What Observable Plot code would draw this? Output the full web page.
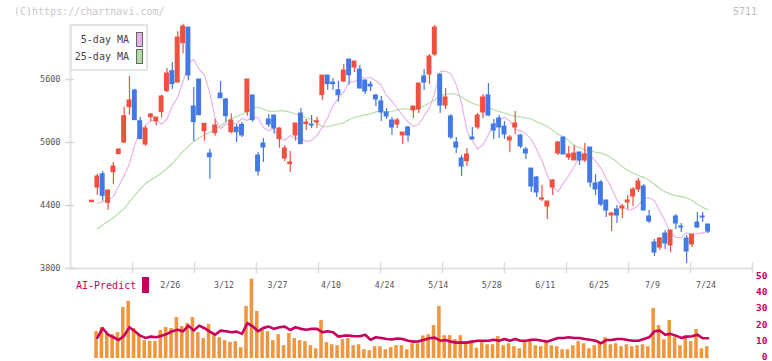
<!DOCTYPE html>
<html>
<head>
<meta charset="utf-8">
<script src="https://cdn.jsdelivr.net/npm/d3@7"></script>
<script src="https://cdn.jsdelivr.net/npm/@observablehq/plot@0.6"></script>
<style>
  body { margin: 0; background: #fff; }
  #wrap { position: relative; width: 772px; height: 361px; overflow: hidden; font-family: "DejaVu Sans Mono", monospace; background: #fff; }
  #wrap svg { position: absolute; left: 0; }
  .abs { position: absolute; white-space: nowrap; line-height: 10px; }
</style>
</head>
<body>
<div id="wrap">
  <div class="abs" style="left:14px;top:7px;font-size:10px;color:#c8c8c8">(C)https://chartnavi.com/</div>
  <div class="abs" style="left:733px;top:7px;font-size:10px;color:#bdbdbd">5711</div>
</div>
<script>
// Daily OHLC prices, one entry per trading day
const open = [
  4432,4571,4698,4425,4717,4889,5000,5337,5495,5203,
  4981,5241,5203,5289,5489,5680,5571,5946,6095,5343,
  5600,5108,4895,5089,5467,5410,5098,5143,5168,5289,
  5448,4876,4990,5219,5257,5032,4848,4794,5067,5276,
  5175,5171,5192,5451,5638,5571,5498,5581,5790,5714,
  5695,5591,5552,5448,5391,5286,5210,5171,5067,5143,
  5305,5314,5629,5648,5838,5648,5352,5248,5000,4848,
  4822,5048,5143,5286,5448,5171,5229,5152,5019,5143,
  5067,4933,4752,4667,4457,4390,4571,4895,5048,4857,
  4829,4905,4829,4952,4610,4619,4448,4305,4362,4371,
  4429,4486,4552,4581,4295,4048,4000,4133,4019,4295,
  4200,4086,4029,4238,4295,4219
];
const high = [
  4446,4698,4724,4543,4810,4940,5337,5629,5508,5241,
  5156,5276,5238,5451,5705,5762,6054,6127,6095,5524,
  5600,5178,4936,5219,5581,5419,5273,5171,5190,5600,
  5448,4905,5038,5267,5257,5143,4971,4914,5181,5324,
  5219,5257,5238,5638,5638,5610,5584,5743,5790,5771,
  5733,5591,5581,5457,5438,5324,5238,5229,5095,5152,
  5343,5562,5695,5838,6114,5648,5514,5267,5048,4876,
  4943,5143,5276,5457,5562,5219,5257,5200,5067,5295,
  5076,4952,4752,4676,4590,4438,4648,5010,5048,4962,
  4971,4905,4990,4952,4695,4638,4448,4333,4400,4410,
  4495,4571,4657,4600,4352,4076,4095,4162,4162,4314,
  4229,4114,4124,4333,4333,4219
];
const low = [
  4432,4498,4441,4355,4597,4885,4990,5260,5213,5032,
  4965,5197,5159,5235,5476,5505,5571,5845,5587,5012,
  5260,5013,4650,5060,5422,5194,5083,5000,5048,5251,
  5194,4679,4810,5143,5079,4946,4819,4714,5013,4984,
  5114,5133,5137,5403,5498,5498,5384,5571,5546,5667,
  5514,5457,5486,5343,5200,5219,5067,5133,4981,5003,
  5229,5276,5495,5552,5819,5276,5314,5029,4895,4676,
  4771,5029,5124,5229,5248,5029,5038,5029,4905,5076,
  4943,4838,4524,4476,4438,4267,4495,4876,4886,4829,
  4829,4781,4810,4571,4495,4390,4286,4152,4229,4276,
  4362,4390,4524,4352,4229,3914,3971,3981,3952,4171,
  4143,3848,4000,4181,4238,4133
];
const close = [
  4446,4676,4492,4543,4771,4933,5251,5400,5213,5032,
  5133,5267,5238,5438,5657,5556,6000,6105,5638,5194,
  5260,5178,4860,5162,5422,5251,5210,5098,5067,5600,
  5213,4724,4952,5171,5133,5133,4943,4810,5181,4984,
  5190,5162,5202,5638,5556,5556,5451,5686,5641,5771,
  5514,5486,5533,5410,5286,5248,5143,5210,5095,5067,
  5343,5562,5571,5819,6095,5352,5429,5048,4952,4771,
  4886,5029,5257,5429,5257,5114,5143,5076,5048,5181,
  4962,4895,4581,4524,4467,4438,4638,5000,4886,4886,
  4895,4829,4886,4619,4552,4409,4352,4324,4305,4390,
  4448,4552,4629,4352,4248,3952,4086,4038,4162,4229,
  4190,3962,4124,4190,4286,4152
];

// Start of the moving-average lines, before a full window of days is on screen: [day index, price]
const ma5Lead = [[1,4420],[2,4435],[3,4450],[4,4485]];
const ma25Lead = [[1,4178],[4,4285],[6,4370],[8,4500],[10,4610],[13,4710],[15,4800],[17,4915],[19,5010],[21,5075],[23,5120],[24,5160]];

// Lower panel: volume (from the second day) and the AI-Predict line
const volume = [
  16.6,19.1,15.4,14.7,16.0,31.5,35.3,18.5,14.7,11.0,10.6,10.6,17.2,19.1,18.5,25.3,19.7,21.6,25.3,16.0,
  12.3,21.0,15.4,12.9,11.0,10.0,10.4,6.7,32.2,49.0,29.0,17.9,16.6,11.0,14.7,7.9,15.4,12.3,11.0,10.4,
  7.9,6.0,23.4,9.8,8.5,7.9,11.6,12.3,7.9,8.5,5.4,4.8,7.3,7.3,5.4,6.7,7.9,7.9,5.4,9.1,9.1,
  13.9,14.7,20.3,32.2,14.1,14.1,11.6,14.1,10.4,11.0,6.4,10.4,8.5,8.5,13.5,7.9,9.1,7.3,6.0,11.0,
  11.0,7.9,7.3,9.8,7.9,7.3,5.4,5.4,7.9,10.4,9.1,6.0,7.9,9.1,12.9,8.5,9.1,7.3,8.5,7.3,
  7.9,8.5,7.3,30.9,20.3,11.6,23.4,12.9,7.9,14.1,10.4,17.9,6.0,7.3
];
const aiPredict = [
  12.7,18.7,14.7,13.1,11.4,14.1,19.3,16.8,14.1,12.7,13.5,13.1,14.1,15.2,16.8,17.8,16.8,20.3,17.2,20.3,
  18.7,16.6,14.7,17.2,16.8,16.2,16.6,15.2,21.8,19.9,16.8,18.9,19.7,18.3,19.3,19.7,17.6,19.3,18.3,17.8,
  18.3,18.3,16.2,16.8,16.2,13.5,14.1,14.1,13.7,13.7,14.7,11.6,13.1,12.7,12.0,11.8,12.3,12.0,11.0,10.4,10.6,
  11.6,12.5,12.9,11.0,11.4,10.4,9.8,9.8,9.8,10.4,11.0,11.0,11.0,11.6,11.0,12.0,11.0,12.0,11.0,11.0,
  11.6,11.6,11.0,10.4,11.6,12.7,12.7,13.1,12.7,12.7,12.0,11.6,11.0,9.4,11.4,11.4,12.0,12.0,11.4,11.0,
  11.0,12.0,13.1,16.8,17.2,14.7,15.2,14.1,12.7,13.5,13.7,14.7,12.5,12.5
];

const dateLabels = ["2/26","3/12","3/27","4/10","4/24","5/14","5/28","6/11","6/25","7/9","7/24"];
const dateLabelDay = [15,25,35,45,55,65,75,85,95,105,115];
const yTicks = [3800,4400,5000,5600];
const volTicks = [0,10,20,30,40,50];

const RED = "#ef5140", BLUE = "#4279e3", PINK = "#e6b0ea", GREEN = "#b2dba4";
const CRIMSON = "#c9005b", ORANGE = "#f0963e", AXIS = "#e2e2e2";
const FONT = "'DejaVu Sans Mono', monospace";

const candles = close.map((c, i) => ({i, open: open[i], high: high[i], low: low[i], close: c}));
const up = candles.filter(d => d.close >= d.open);
const down = candles.filter(d => d.close < d.open);

// k-day average of closes, plotted on the following day
function movingAverage(k) {
  const out = [];
  for (let j = k - 1; j < close.length - 1; j++) {
    out.push({i: j + 1, v: d3.mean(close.slice(j - k + 1, j + 1))});
  }
  return out;
}
const ma5 = ma5Lead.map(([i, v]) => ({i, v})).concat(movingAverage(5));
const ma25 = ma25Lead.map(([i, v]) => ({i, v})).concat(movingAverage(25));

const volData = volume.map((v, j) => ({i: j + 1, v}));
const aiData = aiPredict.map((v, j) => ({i: j + 1, v}));
const labels = dateLabels.map((t, j) => ({i: dateLabelDay[j], t}));

const xDomain = [-4.01, 123.3];
// light tick marks dividing the time axis into 11 equal parts
const gridTicks = d3.range(1, 12).map(k => xDomain[0] + k * (xDomain[1] - xDomain[0]) / 11);

const style = {fontFamily: FONT, fontSize: "8.5px", background: "transparent", overflow: "visible"};

const main = Plot.plot({
  width: 772, height: 273,
  marginLeft: 70, marginRight: 20, marginTop: 24, marginBottom: 5,
  style,
  x: {domain: xDomain, axis: null},
  y: {domain: [3800, 6124], axis: null},
  marks: [
    Plot.ruleY([3800], {stroke: AXIS, strokeWidth: 2}),
    Plot.ruleX([xDomain[0]], {stroke: AXIS, strokeWidth: 2}),
    Plot.axisX(gridTicks, {anchor: "bottom", tickSize: 11, dy: -6, stroke: "#dcdcdc", strokeWidth: 1.5, fill: "none"}),
    Plot.axisY(yTicks, {anchor: "left", tickSize: 5, tickPadding: 5, tickFormat: d => String(d), stroke: "#d6d6d6", strokeWidth: 1.5, fill: "#555", fontSize: 8.5}),
    Plot.axisY(yTicks, {anchor: "left", tickSize: 4, dx: 4, stroke: "#d6d6d6", strokeWidth: 1.5, fill: "none"}),
    Plot.line(ma25, {x: "i", y: "v", stroke: GREEN, strokeWidth: 1.1}),
    Plot.line(ma5, {x: "i", y: "v", stroke: PINK, strokeWidth: 1.1}),
    Plot.ruleX(up, {x: "i", y1: "low", y2: "high", stroke: RED, strokeWidth: 1.2}),
    Plot.ruleX(down, {x: "i", y1: "low", y2: "high", stroke: BLUE, strokeWidth: 1.2}),
    Plot.rect(up, {x1: d => d.i - 0.46, x2: d => d.i + 0.46, y1: "open", y2: "close", fill: RED, insetTop: -0.5, insetBottom: -0.5}),
    Plot.rect(down, {x1: d => d.i - 0.46, x2: d => d.i + 0.46, y1: "open", y2: "close", fill: BLUE, insetTop: -0.5, insetBottom: -0.5})
  ]
});
main.style.top = "0px";

const lower = Plot.plot({
  width: 772, height: 93,
  marginLeft: 70, marginRight: 20, marginTop: 9, marginBottom: 3,
  style,
  x: {domain: xDomain, axis: null},
  y: {domain: [0, 50], axis: null},
  marks: [
    Plot.rectY(volData, {x1: d => d.i - 0.33, x2: d => d.i + 0.33, y: "v", fill: ORANGE, dx: -0.8}),
    Plot.line(aiData, {x: "i", y: "v", stroke: CRIMSON, strokeWidth: 2.6}),
    Plot.text(volTicks, {y: d => d, text: d => String(d), frameAnchor: "right", textAnchor: "end", dx: 15, dy: -1.5, fill: CRIMSON, fontSize: 9.5, fontWeight: "bold"}),
    Plot.text(labels, {x: "i", text: "t", frameAnchor: "top", dy: 5, dx: -2, fill: "#555", fontSize: 8.3})
  ]
});
lower.style.top = "268px";

const wrap = document.getElementById("wrap");
wrap.appendChild(main);
wrap.appendChild(lower);

// Legend for the moving averages
const legend = document.createElement("div");
legend.innerHTML = `
  <div class="abs" style="left:70px;top:24px;width:78px;height:47px;box-sizing:border-box;border:2px solid #e4e4e4;background:#fff"></div>
  <div class="abs" style="right:643px;top:35px;font-size:10px;color:#444">5-day MA</div>
  <div class="abs" style="left:136px;top:32px;width:5px;height:13px;border:1px solid #666;background:${PINK}"></div>
  <div class="abs" style="right:643px;top:52px;font-size:10px;color:#444">25-day MA</div>
  <div class="abs" style="left:136px;top:49px;width:5px;height:13px;border:1px solid #666;background:${GREEN}"></div>
  <div class="abs" style="left:76px;top:281px;font-size:10px;color:${CRIMSON}">AI-Predict</div>
  <div class="abs" style="left:142px;top:277px;width:7px;height:16px;background:${CRIMSON}"></div>
`;
wrap.appendChild(legend);
</script>
</body>
</html>
